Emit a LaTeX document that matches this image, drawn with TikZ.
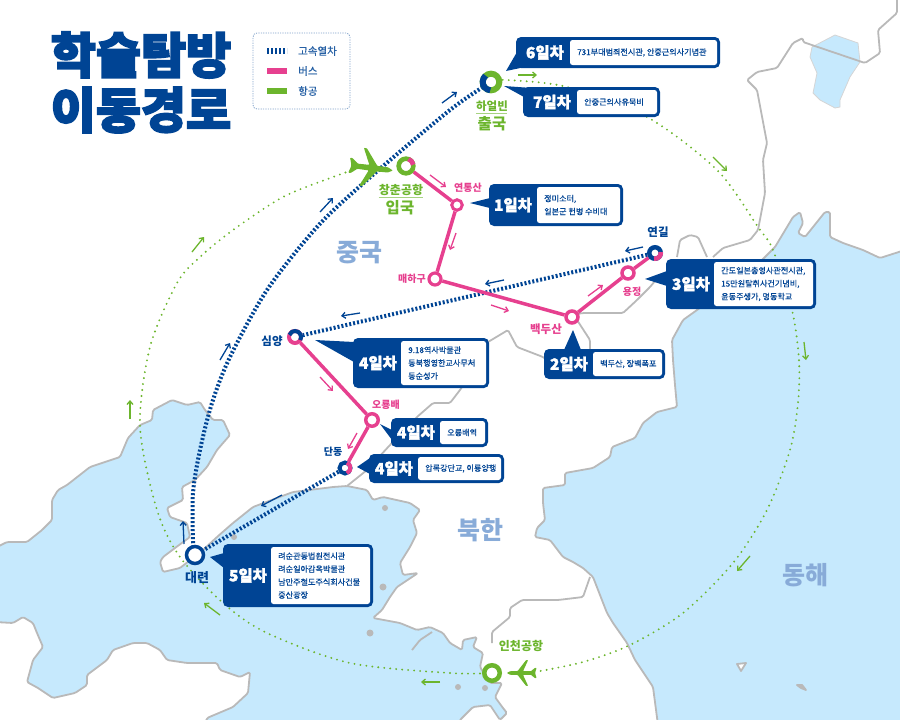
\documentclass[tikz,border=0pt]{standalone}
\usepackage{fontspec}
\setmainfont{Noto Sans CJK KR}
\newfontfamily\titlefont[FakeBold=3.5]{Noto Sans CJK KR Black}
\newfontfamily\tagfont[FakeBold=2]{Noto Sans CJK KR Black}
\newfontfamily\infofont[FakeBold=0.5]{Noto Sans CJK KR}
\usetikzlibrary{arrows.meta,backgrounds}
\definecolor{seablue}{HTML}{C6E9FD}
\definecolor{coastgray}{HTML}{B9B9B9}
\definecolor{dayblue}{HTML}{004494}
\definecolor{buspink}{HTML}{E6408F}
\definecolor{flygreen}{HTML}{6CB52D}
\definecolor{namecolor}{HTML}{88ABD8}
\tikzset{
  coast/.style={draw=coastgray,line width=1.8pt,line join=round,rounded corners=1.5pt},
  train/.style={draw=dayblue,line width=4pt,dash pattern=on 2pt off 2pt},
  bus/.style={draw=buspink,line width=3.5pt},
  flight/.style={draw=flygreen,line width=2.1pt,line cap=round,dash pattern=on 0pt off 6pt},
  hint/.style={-{Straight Barb[length=3.5pt,width=6pt]},line width=1.3pt},
  stopring/.style={circle,fill=white,inner sep=0pt,minimum size=#1},
  label/.style={inner sep=0pt,font=\fontsize{#1}{12}\selectfont\bfseries},
  bigname/.style={inner sep=0pt,text=namecolor,font=\fontsize{25}{28}\selectfont\bfseries},
  daybody/.style={fill=dayblue,rounded corners=5pt},
  dayinfo/.style={fill=white,rounded corners=2.5pt,inner sep=0pt},
  daytext/.style={anchor=west,inner sep=0pt,align=left,text=dayblue,font=\fontsize{8.1}{13}\selectfont\infofont},
  daytag/.style={inner sep=0pt,text=white,font=\fontsize{15.5}{16}\selectfont\tagfont},
  plane/.pic={
    \fill[flygreen,rounded corners=0.7pt] (-21,-1.2) -- (-23,-7.5) -- (-20.5,-7.5) -- (-14.5,-2.6) -- (-3,-2.8) -- (-10.5,-19) -- (-7.5,-19)
      -- (5,-2.8) -- (16,-2.6) -- (21,0) -- (16,2.6) -- (5,2.8) -- (-7.5,19) -- (-10.5,19) -- (-3,2.8) -- (-14.5,2.6) -- (-20.5,7.5) -- (-23,7.5)
      -- (-21,1.2) -- cycle;
  }
}
\begin{document}
\begin{tikzpicture}[x=1pt,y=-1pt]
  \useasboundingbox (0,0) rectangle (900,720);
  \clip (0,0) rectangle (900,720);
  % stops
  \node[stopring=14.7pt,draw=flygreen,line width=4.6pt] (changchun) at (406,166) {};
  \node[stopring=10.5pt,draw=buspink,line width=3pt] (yeontong) at (457,205) {};
  \node[stopring=12pt,draw=buspink,line width=3.2pt] (maeha) at (435,279) {};
  \node[stopring=12pt,draw=buspink,line width=3.5pt] (baekdu) at (572,317) {};
  \node[stopring=12pt,draw=buspink,line width=3.5pt] (yongjeong) at (628,273) {};
  \node[stopring=11.5pt,draw=dayblue,line width=4.5pt] (yanji) at (655,253) {};
  \node[stopring=12pt,draw=buspink,line width=4pt] (shenyang) at (295,337) {};
  \node[stopring=12.5pt,draw=buspink,line width=3.5pt] (oryong) at (372,420) {};
  \node[stopring=11pt,draw=dayblue,line width=4pt] (dandong) at (345,468) {};
  \node[stopring=17pt,draw=dayblue,line width=3.5pt] (dalian) at (195,555) {};
  \node[stopring=16.6pt,draw=flygreen,line width=6pt] (harbin) at (491,82) {};
  \node[stopring=15.5pt,draw=flygreen,line width=4.5pt] (incheon) at (492,673) {};
  % two colour rings
  \draw[buspink,line width=4.6pt] ([shift={(-10:7.35)}]changchun.center) arc[start angle=-10,end angle=-70,radius=7.35];
  \draw[buspink,line width=4.5pt] ([shift={(100:5.75)}]yanji.center) arc[start angle=100,end angle=-10,radius=5.75];
  \draw[dayblue,line width=4pt] ([shift={(30:6)}]shenyang.center) arc[start angle=30,end angle=-160,radius=6];
  \draw[buspink,line width=4pt] ([shift={(70:5.5)}]dandong.center) arc[start angle=70,end angle=-70,radius=5.5];
  \draw[dayblue,line width=6pt] ([shift={(-130:8.3)}]harbin.center) arc[start angle=-130,end angle=-265,radius=8.3];
  \begin{scope}[on background layer]
    % sea and land
    \draw[coast,fill=seablue] (-5,548) -- (7,542) -- (27,542) -- (42,530) -- (52,520) -- (52,500) -- (58,490) -- (67,485) -- (90,467)
      -- (120,457) -- (128,438) -- (140,425) -- (152,420) -- (153,410) -- (172,400) -- (187,405) -- (200,402) -- (205,410)
      -- (213,420) -- (223,420) -- (230,435) -- (217,450) -- (207,467) -- (195,480) -- (182,487) -- (183,500) -- (167,508)
      -- (170,517) -- (187,523) -- (190,537) -- (175,548) -- (163,557) -- (160,562) -- (163,572) -- (180,568) -- (203,550)
      -- (217,537) -- (233,523) -- (253,507) -- (293,492) -- (333,487) -- (347,486) -- (367,490) -- (373,500) -- (383,497)
      -- (410,503) -- (420,510) -- (413,520) -- (417,533) -- (410,547) -- (400,563) -- (403,575) -- (418,573) -- (397,587)
      -- (390,597) -- (382,610) -- (373,618) -- (400,623) -- (417,630) -- (430,627) -- (443,633) -- (450,643) -- (462,650)
      -- (463,640) -- (477,637) -- (473,647) -- (483,653) -- (480,667) -- (490,683) -- (502,683) -- (495,697) -- (503,708)
      -- (507,713) -- (500,720) -- (490,705) -- (473,707) -- (460,720) -- (458,725) -- (205,725) -- (207,718) -- (233,707)
      -- (248,693) -- (250,672) -- (240,677) -- (220,670) -- (217,663) -- (187,663) -- (167,660) -- (160,650) -- (147,643)
      -- (133,643) -- (113,650) -- (107,660) -- (87,675) -- (87,685) -- (75,693) -- (53,698) -- (38,688) -- (27,682)
      -- (33,660) -- (43,647) -- (37,633) -- (33,623) -- (23,617) -- (13,623) -- (-5,622) -- cycle;
    \draw[coast,fill=seablue] (905,250) -- (880,258) -- (863,250) -- (843,243) -- (830,237) -- (830,212) -- (825,212) -- (805,237)
      -- (798,233) -- (803,223) -- (800,212) -- (793,217) -- (775,247) -- (757,265) -- (697,310) -- (683,320) -- (672,340)
      -- (673,360) -- (675,385) -- (677,407) -- (657,412) -- (643,423) -- (635,438) -- (612,447) -- (610,457) -- (593,468)
      -- (565,473) -- (565,485) -- (543,488) -- (543,503) -- (545,520) -- (537,528) -- (535,537) -- (550,540) -- (563,557)
      -- (573,562) -- (583,568) -- (593,577) -- (607,613) -- (613,623) -- (627,643) -- (635,660) -- (653,687) -- (658,725)
      -- (905,725) -- cycle;
    % lake and islands
    \draw[draw=coastgray!60,line width=0.8pt,fill=seablue] (810,57) -- (812,47) -- (835,35) -- (858,43) -- (860,62) -- (850,77) -- (840,100) -- (840,107)
      -- (835,108) -- (820,100) -- (813,93) -- (817,73) -- cycle;
    \draw[coast,sharp corners,fill=white] (737,664) -- (746,663) -- (741,671) -- cycle;
    \draw[coast,sharp corners,fill=coastgray] (797,685) -- (802,685) -- (806,690) -- (801,688) -- cycle;
    \fill[coastgray] (234,537) circle (3) (385,508) circle (3) (383,587) circle (3.5) (370,633) circle (3.5) (458,687) circle (3) (485,688) circle (3);
    % borders
    \draw[coast] (347,486) -- (367,470) -- (390,445) -- (417,417) -- (433,403) -- (450,403) -- (460,390) -- (470,375);
    \draw[coast] (488,342) -- (508,330) -- (517,347) -- (543,357) -- (560,370);
    \draw[coast] (577,320) -- (590,340) -- (590,350);
    \draw[coast] (572,315) -- (583,313) -- (623,313) -- (637,300) -- (650,287) -- (660,275);
    \draw[coast] (677,257) -- (680,240) -- (690,235) -- (698,237) -- (707,257);
    \draw[coast] (713,257) -- (723,248) -- (750,240) -- (758,230) -- (765,193) -- (763,160) -- (767,143) -- (757,90) -- (747,80)
      -- (757,72) -- (777,68) -- (793,43) -- (803,38) -- (803,42) -- (865,63) -- (880,53) -- (878,30) -- (897,13) -- (897,-5);
    \draw[coast] (492,643) -- (492,632) -- (510,617) -- (510,608) -- (522,600) -- (558,600) -- (583,597) -- (590,577);
    \draw[coast] (412,650) -- (420,640) -- (432,632);
    % routes
    \draw[flight] plot[smooth] coordinates {(incheon) (450,673) (350,663) (267,633) (223,603) (180,557) (157,510) (140,427)
      (150,347) (177,283) (200,257) (233,230) (283,197) (333,177) (353,170)};
    \draw[flight] plot[smooth] coordinates {(harbin) (507,80) (567,87) (647,117) (717,170) (758,227) (773,250) (792,310) (799,360)
      (798,403) (790,450) (767,510) (733,563) (683,613) (630,645) (583,662) (535,672)};
    \draw[train] plot[smooth] coordinates {(dalian) (193,540) (193,493) (200,450) (212,403) (230,357) (267,290) (317,227)
      (367,180) (450,110) (harbin)};
    \draw[train] (yanji) -- (shenyang);
    \draw[train] (dandong) -- (dalian);
    \draw[bus] (changchun) -- (yeontong) -- (maeha) -- (baekdu) -- (yongjeong) -- (yanji);
    \draw[bus] (shenyang) -- (oryong) -- (dandong);
  \end{scope}
  % planes
  \pic[rotate=-7] at (372,168) {plane};
  \pic[rotate=180,scale=0.68] at (521,673) {plane};
  % direction hints
  \foreach[count=\cnt] \xa/\ya/\xb/\yb in {320/212/333/198,442/103/457/92,220/360/230/343,360/313/341/316,504/280/485/284,
    643/247/625/251,184/544/183/521,282/495/261/506}
    {\coordinate (na\cnt) at (\xa,\ya); \coordinate (nb\cnt) at (\xb,\yb); \draw[hint,dayblue] (na\cnt) -- (nb\cnt);}
  \foreach[count=\cnt] \xa/\ya/\xb/\yb in {430/175/446/187,456/233/450/250,491/305/509/311,588/296/603/285,320/377/333/391,
    357/433/348/449}
    {\coordinate (pa\cnt) at (\xa,\ya); \coordinate (pb\cnt) at (\xb,\yb); \draw[hint,buspink] (pa\cnt) -- (pb\cnt);}
  \foreach[count=\cnt] \xa/\ya/\xb/\yb in {518/75/537/75,713/157/727/171,804/342/806/360,750/556/737/571,440/682/421/682,
    220/615/204/603,130/419/130/400,192/252/204/237}
    {\coordinate (ga\cnt) at (\xa,\ya); \coordinate (gb\cnt) at (\xb,\yb); \draw[hint,flygreen] (ga\cnt) -- (gb\cnt);}
  % day boxes
  \foreach \nm/\xa/\ya/\xb/\yb/\xi/\tagx/\tagtxt/\info in {
    six/516/37/720/68/570/545/6일차/{731부대범죄전시관, 안중근의사기념관},
    seven/523/87/660/117/577/552/7일차/{안중근의사유묵비},
    one/489/184/623/226/537/513/1일차/{정미소터,\\일본군 헌병 수비대},
    three/666/259/816/309/714/691/3일차/{간도일본총영사관전시관,\\15만원탈취사건기념비,\\윤동주생가, 명동학교},
    two/544/349/665/379/593/569/2일차/{백두산, 장백폭포},
    foura/353/338/489/388/401/378/4일차/{9.18역사박물관\\동북행영한교사무처\\동순성가},
    fourb/391/418/488/447/440/416/4일차/{오룡배역},
    fourc/369/454/504/483/418/394/4일차/{압록강단교, 이룡양행},
    five/223/544/373/607/271/248/5일차/{려순관동법원전시관\\려순일아감옥박물관\\남만주철도주식회사건물\\중산광장}}
  {
    \node[daybody,minimum width={(\xb-\xa)*1pt},minimum height={(\yb-\ya)*1pt}] (\nm) at ({(\xa+\xb)/2},{(\ya+\yb)/2}) {};
    \node[dayinfo,minimum width={(\xb-\xi-3)*1pt},minimum height={(\yb-\ya-6)*1pt}] (\nm info) at ({(\xi+\xb-3)/2},{(\ya+\yb)/2}) {};
    \node[daytext] (\nm text) at ({\xi+7},{(\ya+\yb)/2}) {\info};
    \node[daytag] (\nm tag) at (\tagx,{(\ya+\yb)/2}) {\tagtxt};
  }
  % tails
  \fill[dayblue] (506,71) -- (517,52) -- (530,66) -- cycle;
  \fill[dayblue] (504,86) -- (524,97) -- (532,88) -- cycle;
  \fill[dayblue] (470,203) -- (490,198) -- (490,208) -- cycle;
  \fill[dayblue] (645,279) -- (667,271) -- (667,286) -- cycle;
  \fill[dayblue] (573,330) -- (564,350) -- (581,350) -- cycle;
  \fill[dayblue] (315,340) -- (354,342) -- (354,362) -- cycle;
  \fill[dayblue] (380,424) -- (392,430) -- (392,440) -- cycle;
  \fill[dayblue] (357,467) -- (370,458) -- (370,474) -- cycle;
  \fill[dayblue] (210,557) -- (224,553) -- (224,568) -- cycle;
  % stop names
  \node[label=10,text=buspink] (yeontonglb) at (468,188) {연통산};
  \node[label=10,text=buspink] (maehalb) at (412,279) {매하구};
  \node[label=10,text=buspink] (yongjeonglb) at (632,292) {용정};
  \node[label=11.5,text=buspink] (baekdulb) at (546,329) {백두산};
  \node[label=10,text=buspink] (oryonglb) at (386,405) {오룡배};
  \node[label=11.5,text=dayblue] (yanjilb) at (658,232) {연길};
  \node[label=11.5,text=dayblue] (shenyanglb) at (272,341) {심양};
  \node[label=10,text=dayblue] (dandonglb) at (333,452) {단동};
  \node[label=13,text=dayblue] (dalianlb) at (197,578) {대련};
  \node[label=12,text=flygreen] (incheonlb) at (521,646) {인천공항};
  \node[label=12,text=flygreen] (changchunlb) at (401,190) {창춘공항};
  \node[label=15.5,text=flygreen] (entrylb) at (400,208) {입국};
  \node[label=11.5,text=flygreen] (harbinlb) at (492,106) {하얼빈};
  \node[label=15.5,text=flygreen] (exitlb) at (492,124) {출국};
  \draw[flygreen!60,line width=0.6pt] (changchunlb.south west) ++(0,1.5) -- +(44,0);
  \draw[flygreen!60,line width=0.6pt] (harbinlb.south west) ++(0,1.5) -- +(31,0);
  % country names
  \node[bigname] (china) at (359,253) {중국};
  \node[bigname] (nkorea) at (480,530) {북한};
  \node[bigname] (eastsea) at (805,575) {동해};
  % title
  \node[inner sep=0pt,text=dayblue,font=\fontsize{49}{52}\selectfont\titlefont] (titlea) at (141,55) {학술탐방};
  \node[inner sep=0pt,text=dayblue,font=\fontsize{49}{52}\selectfont\titlefont] (titleb) at (141,110) {이동경로};
  % legend
  \node[draw=dayblue!50,dash pattern=on 1.2pt off 1.2pt,line width=0.8pt,rounded corners=4pt,minimum width=97pt,minimum height=76pt] (legend) at (301.5,71) {};
  \foreach \txt [count=\cnt] in {고속열차,버스,항공}
  {
    \coordinate (lga\cnt) at (267,{31+20*\cnt});
    \coordinate (lgb\cnt) at (287,{31+20*\cnt});
    \node[anchor=west,inner sep=0pt,text=dayblue!85,font=\fontsize{10.5}{12}\selectfont\infofont] (lgt\cnt) at (298,{31+20*\cnt}) {\txt};
  }
  \draw[train,line width=6pt] (lga1) -- (lgb1);
  \draw[draw=buspink,line width=6pt] (lga2) -- (lgb2);
  \draw[draw=flygreen,line width=6pt] (lga3) -- (lgb3);
\end{tikzpicture}
\end{document}
